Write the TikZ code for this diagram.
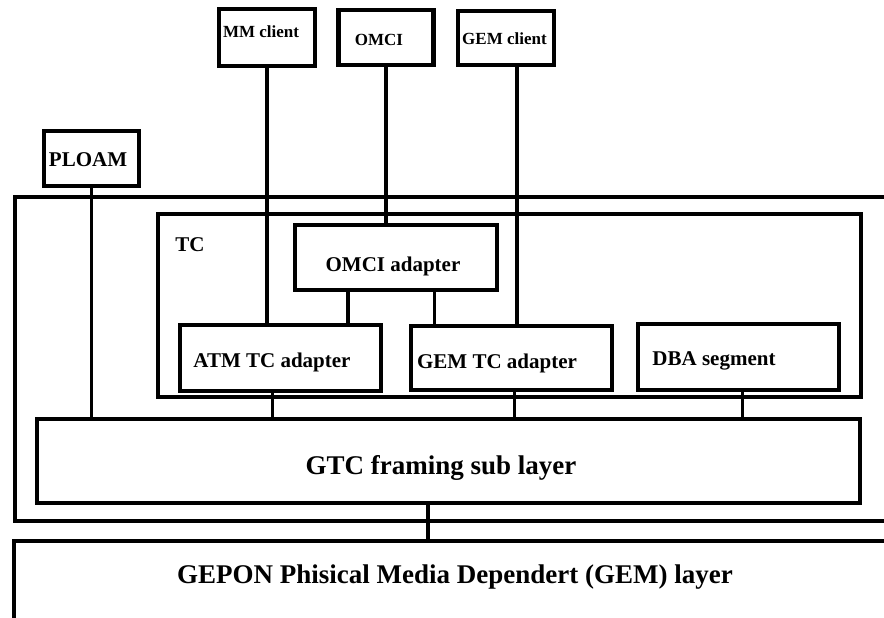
\documentclass[tikz,border=0pt]{standalone}
\usepackage{fontspec}
\setmainfont{Liberation Serif}
\begin{document}
\begin{tikzpicture}[x=1pt,y=-1pt,
  box/.style={draw=black, line width=4.5pt, inner sep=0pt, outer sep=0pt, fill=none},
  thinbox/.style={box, line width=4pt},
  link/.style={draw=black, line width=4pt},
  thinlink/.style={draw=black, line width=3pt},
  small/.style={font=\bfseries\fontsize{17}{17}\selectfont},
  mid/.style={font=\bfseries\fontsize{21}{21}\selectfont},
  big/.style={font=\bfseries\fontsize{27}{27}\selectfont}
]
\clip (0,0) rectangle (884,618);
\fill[white] (0,0) rectangle (884,618);

% client entities on top
\node[box, minimum width=96pt, minimum height=57pt,
      label={[small, xshift=-6pt, yshift=6pt]center:MM client}] (mm) at (267,37.5) {};
\node[box, minimum width=95pt, minimum height=55pt,
      label={[small, xshift=-7pt, yshift=-2pt]center:OMCI}] (omci) at (386,37.5) {};
\node[box, minimum width=96pt, minimum height=54pt,
      label={[small, xshift=-1.5pt, yshift=-1pt]center:GEM client}] (gemc) at (506,38) {};
\node[box, minimum width=95pt, minimum height=55pt,
      label={[mid, xshift=-3.5pt, yshift=-1pt]center:PLOAM}] (ploam) at (91.5,158.5) {};

% transmission convergence layer (open to the right)
\node[box, minimum width=900pt, minimum height=324pt] (tcl) at (465,359) {};
% TC sub-block
\node[thinbox, minimum width=703pt, minimum height=183pt,
      label={[mid, xshift=-319pt, yshift=60pt]center:TC}] (tc) at (509,305) {};

% adapters
\node[box, minimum width=202pt, minimum height=65pt,
      label={[mid, xshift=-3pt, yshift=-9pt]center:OMCI adapter}] (omciad) at (396,257.5) {};
\node[box, minimum width=201pt, minimum height=66pt,
      label={[mid, xshift=-8.5pt, yshift=-4pt]center:ATM TC adapter}] (atm) at (280.5,358) {};
\node[box, minimum width=201pt, minimum height=64pt,
      label={[mid, xshift=-14.5pt, yshift=-5pt]center:GEM TC adapter}] (gemtc) at (511.5,358) {};
\node[box, minimum width=201pt, minimum height=66pt,
      label={[mid, xshift=-24.5pt, yshift=-4pt]center:DBA segment}] (dba) at (738.5,357) {};

% framing sub layer
\node[box, minimum width=823pt, minimum height=84pt,
      label={[big, xshift=-7.5pt, yshift=-7pt]center:GTC framing sub layer}] (gtc) at (448.5,461) {};

% physical media dependent layer (open to the right and bottom)
\node[box, minimum width=900pt, minimum height=200pt,
      label={[big, xshift=-9pt, yshift=64pt]center:GEPON Phisical Media Dependert (GEM) layer}] (pmd) at (464,641) {};

% connections
\draw[link] (mm.south) -- (mm.south |- atm.north);
\draw[link] (omci.south) -- (omci.south |- omciad.north);
\draw[link] ([xshift=11pt]gemc.south) -- ([xshift=11pt]gemc.south |- gemtc.north);
\draw[thinlink] (ploam.south) -- (ploam.south |- gtc.north);
\draw[link] ([xshift=-48pt]omciad.south) -- ([xshift=-48pt]omciad.south |- atm.north);
\draw[thinlink] ([xshift=38pt]omciad.south) -- ([xshift=38pt]omciad.south |- gemtc.north);
\draw[thinlink] ([xshift=-8.5pt]atm.south) -- ([xshift=-8.5pt]atm.south |- gtc.north);
\draw[thinlink] ([xshift=2.5pt]gemtc.south) -- ([xshift=2.5pt]gemtc.south |- gtc.north);
\draw[thinlink] ([xshift=3.5pt]dba.south) -- ([xshift=3.5pt]dba.south |- gtc.north);
\draw[link] ([xshift=-20.5pt]gtc.south) -- ([xshift=-20.5pt]gtc.south |- pmd.north);
\end{tikzpicture}
\end{document}
